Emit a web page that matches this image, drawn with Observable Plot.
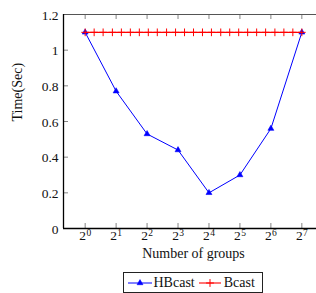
<!DOCTYPE html>
<html>
<head>
<meta charset="utf-8">
<script src="https://cdn.jsdelivr.net/npm/d3@7"></script>
<script src="https://cdn.jsdelivr.net/npm/@observablehq/plot@0.6"></script>
<style>
  html, body { margin: 0; padding: 0; background: #fff; overflow: hidden; width: 316px; height: 293px; }
  #wrap { position: relative; width: 316px; height: 293px; overflow: hidden; }
  #legend {
    position: absolute; left: 123px; top: 272px; width: 140px; height: 21px;
    box-sizing: border-box; border: 1px solid #222; background: #fff;
    display: flex; align-items: center; padding-left: 3px;
    font-family: "Liberation Serif", serif; font-size: 14px; color: #111;
  }
  #legend svg { display: block; }
</style>
</head>
<body>
<div id="wrap"><div id="chart"></div><div id="legend"></div></div>
<script>
// ---- data ----
const groupExponents = [0, 1, 2, 3, 4, 5, 6, 7];          // x = 2^k
const hbcastTimes = [1.1, 0.77, 0.53, 0.44, 0.2, 0.30, 0.56, 1.1];
const bcastExponents = [0, 0.29, 0.58, 0.88, 1.17, 1.46, 1.75, 2.04, 2.33, 2.63, 2.92, 3.21, 3.5,
                        3.79, 4.08, 4.38, 4.67, 4.96, 5.25, 5.54, 5.83, 6.13, 6.42, 6.71, 7];
const bcastTimes = [1.1, 1.1, 1.1, 1.1, 1.1, 1.1, 1.1, 1.1, 1.1, 1.1, 1.1, 1.1, 1.1,
                    1.1, 1.1, 1.1, 1.1, 1.1, 1.1, 1.1, 1.1, 1.1, 1.1, 1.1, 1.1];
const yTicks = [0, 0.2, 0.4, 0.6, 0.8, 1, 1.2];
const yTickLabels = ["0", "0.2", "0.4", "0.6", "0.8", "1", "1.2"];
const xTickBase = "2";
const xTickExps = ["0", "1", "2", "3", "4", "5", "6", "7"];
const xLabel = "Number of groups";
const yLabel = "Time(Sec)";
const seriesNames = ["HBcast", "Bcast"];
const seriesColors = ["#0000ff", "#ff0000"];

const hb = groupExponents.map((x, i) => ({x, y: hbcastTimes[i]}));
const bc = bcastExponents.map((x, i) => ({x, y: bcastTimes[i]}));

const chart = Plot.plot({
  width: 323, height: 268,
  marginTop: 14, marginBottom: 40, marginLeft: 63, marginRight: 0,
  style: {fontFamily: "Liberation Serif, serif", fontSize: "13.5px", maxWidth: "none", color: "#111", background: "transparent"},
  x: {domain: [-0.7, 7.7], axis: null},
  y: {domain: [0, 1.2], axis: null},
  marks: [
    // tick marks (inward)
    Plot.ruleX(groupExponents, {x: d => d, insetTop: 209, stroke: "#777", strokeWidth: 0.9}),
    Plot.ruleX(groupExponents, {x: d => d, insetBottom: 209, stroke: "#777", strokeWidth: 0.9}),
    Plot.ruleY(yTicks, {y: d => d, insetRight: 255, stroke: "#777", strokeWidth: 0.9}),
    // frame
    Plot.ruleY([1.2], {stroke: "#555", strokeWidth: 1}),
    Plot.ruleY([0], {stroke: "#000", strokeWidth: 1.3}),
    Plot.ruleX([-0.7], {stroke: "#000", strokeWidth: 1.3}),
    // y tick labels
    Plot.text(yTicks, {y: d => d, text: (d, i) => yTickLabels[i], frameAnchor: "left", textAnchor: "end", dx: -5, dy: 1}),
    // x tick labels 2^k
    Plot.text(groupExponents, {x: d => d, text: () => xTickBase, frameAnchor: "bottom", dx: -2.5, dy: 11.5}),
    Plot.text(groupExponents, {x: d => d, text: (d, i) => xTickExps[i], frameAnchor: "bottom", dx: 3.6, dy: 7.5, fontSize: 9.5}),
    // axis labels
    Plot.text([xLabel], {text: d => d, frameAnchor: "bottom", dy: 29, fontSize: 14}),
    Plot.text([yLabel], {text: d => d, frameAnchor: "left", rotate: -90, dx: -46, fontSize: 14}),
    // series
    Plot.line(hb, {x: "x", y: "y", stroke: seriesColors[0], strokeWidth: 1}),
    Plot.dot(hb, {x: "x", y: "y", symbol: "triangle", r: 2.2, fill: seriesColors[0], stroke: seriesColors[0], strokeWidth: 0.6}),
    Plot.line(bc, {x: "x", y: "y", stroke: seriesColors[1], strokeWidth: 1.1}),
    Plot.dot(bc, {x: "x", y: "y", symbol: "plus", r: 2.6, stroke: seriesColors[1], strokeWidth: 1})
  ]
});
document.getElementById("chart").appendChild(chart);

// legend
const legend = d3.select("#legend");
function swatch(color, symbolType, size, filled, w, ml) {
  const s = legend.append("svg").attr("width", w).attr("height", 12).style("margin-left", ml + "px");
  s.append("line").attr("x1", 0).attr("x2", w).attr("y1", 6).attr("y2", 6).attr("stroke", color).attr("stroke-width", filled ? 1 : 1.1);
  s.append("path").attr("transform", `translate(${w / 2},6)`)
    .attr("d", d3.symbol(symbolType, size)())
    .attr("fill", filled ? color : "none").attr("stroke", color).attr("stroke-width", filled ? 0.6 : 1);
}
swatch(seriesColors[0], d3.symbolTriangle, 15, true, 24, 1);
legend.append("span").text(seriesNames[0]).style("margin-left", "1.5px");
swatch(seriesColors[1], d3.symbolPlus, 22, false, 22, 4);
legend.append("span").text(seriesNames[1]).style("margin-left", "3px");
</script>
</body>
</html>
